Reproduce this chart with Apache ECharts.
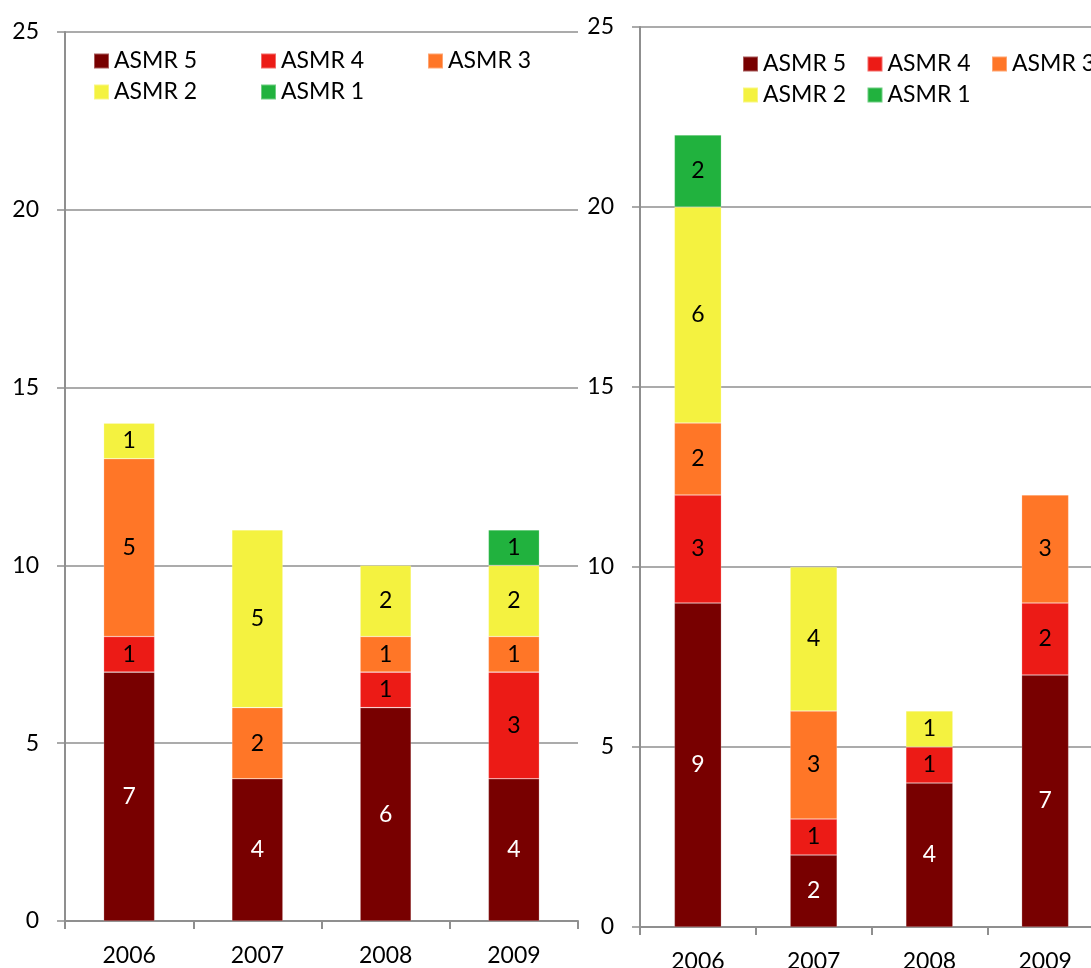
<!DOCTYPE html>
<html>
<head>
<meta charset="utf-8">
<script src="https://cdn.jsdelivr.net/npm/echarts@6/dist/echarts.min.js"></script>
<style>
  html, body { margin: 0; padding: 0; background: #fff; overflow: hidden; }
  /* the right panel runs past the window's right edge */
  #chart { width: 1110px; height: 968px; }
</style>
</head>
<body>
<div id="chart"></div>
<script>
// Years on the category axis
const years = ['2006', '2007', '2008', '2009'];
// Stack order, bottom to top
const levels = ['ASMR 5', 'ASMR 4', 'ASMR 3', 'ASMR 2', 'ASMR 1'];
const levelColors = ['#780000', '#EC1B16', '#FF7627', '#F4F240', '#21B23E'];
const yTicks = [0, 5, 10, 15, 20, 25];

// Left panel counts per year
const leftAsmr5 = [7, 4, 6, 4];
const leftAsmr4 = [1, 0, 1, 3];
const leftAsmr3 = [5, 2, 1, 1];
const leftAsmr2 = [1, 5, 2, 2];
const leftAsmr1 = [0, 0, 0, 1];

// Right panel counts per year
const rightAsmr5 = [9, 2, 4, 7];
const rightAsmr4 = [3, 1, 1, 2];
const rightAsmr3 = [2, 3, 0, 3];
const rightAsmr2 = [6, 4, 1, 0];
const rightAsmr1 = [2, 0, 0, 0];

const leftSets = [leftAsmr5, leftAsmr4, leftAsmr3, leftAsmr2, leftAsmr1];
const rightSets = [rightAsmr5, rightAsmr4, rightAsmr3, rightAsmr2, rightAsmr1];

const FONT = 'Lato, "Open Sans", sans-serif';
const GRID_GRAY = '#8f8f8f';

function makeSeries(sets, axisIndex, barWidth) {
  return sets.map((vals, i) => ({
    name: levels[i],
    type: 'bar',
    stack: 'panel' + axisIndex,
    xAxisIndex: axisIndex,
    yAxisIndex: axisIndex,
    barWidth: barWidth,
    data: vals.map(v => (v === 0 ? null : v)),
    itemStyle: { color: levelColors[i], borderColor: 'rgba(255,255,255,0.35)', borderWidth: 0.6 },
    label: {
      show: true,
      position: 'inside',
      fontFamily: FONT,
      fontSize: 23,
      color: i === 0 ? '#ffffff' : '#000000',
      formatter: p => (p.value == null ? '' : String(p.value))
    }
  }));
}

function xAxisFor(gridIndex, margin) {
  return {
    type: 'category',
    gridIndex: gridIndex,
    data: years,
    boundaryGap: true,
    axisLine: { show: true, lineStyle: { color: GRID_GRAY, width: 2 } },
    axisTick: { show: true, length: 8, lineStyle: { color: GRID_GRAY, width: 2 } },
    axisLabel: { color: '#000', fontFamily: FONT, fontSize: 23, margin: margin }
  };
}

function yAxisFor(gridIndex) {
  return {
    type: 'value',
    gridIndex: gridIndex,
    min: yTicks[0],
    max: yTicks[yTicks.length - 1],
    interval: yTicks[1] - yTicks[0],
    axisLine: { show: true, lineStyle: { color: GRID_GRAY, width: 2 } },
    axisTick: { show: true, length: 8, lineStyle: { color: GRID_GRAY, width: 1.5 } },
    splitLine: { show: true, lineStyle: { color: GRID_GRAY, width: 1.5 } },
    axisLabel: { color: '#000', fontFamily: FONT, fontSize: 23, margin: 26 }
  };
}

function legendFor(left, top, colWidth) {
  return {
    data: levels,
    left: left,
    top: top,
    width: colWidth * 3 + 10,
    padding: 0,
    itemGap: 0,
    itemWidth: 15,
    itemHeight: 15,
    icon: 'rect',
    orient: 'horizontal',
    textStyle: {
      fontFamily: FONT,
      fontSize: 23,
      color: '#000',
      lineHeight: 31,
      width: colWidth - 20
    }
  };
}

const chart = echarts.init(document.getElementById('chart'), null, { renderer: 'canvas' });
chart.setOption({
  backgroundColor: '#ffffff',
  animation: false,
  legend: [legendFor(93, 45.5, 166), legendFor(742, 48.5, 123.5)],
  grid: [
    { left: 65, top: 32, width: 513, height: 889, containLabel: false, outerBoundsMode: 'none' },
    { left: 640, top: 27, width: 463, height: 900, containLabel: false, outerBoundsMode: 'none' }
  ],
  xAxis: [xAxisFor(0, 23), xAxisFor(1, 23)],
  yAxis: [yAxisFor(0), yAxisFor(1)],
  series: makeSeries(leftSets, 0, 51).concat(makeSeries(rightSets, 1, 47))
});
</script>
</body>
</html>
